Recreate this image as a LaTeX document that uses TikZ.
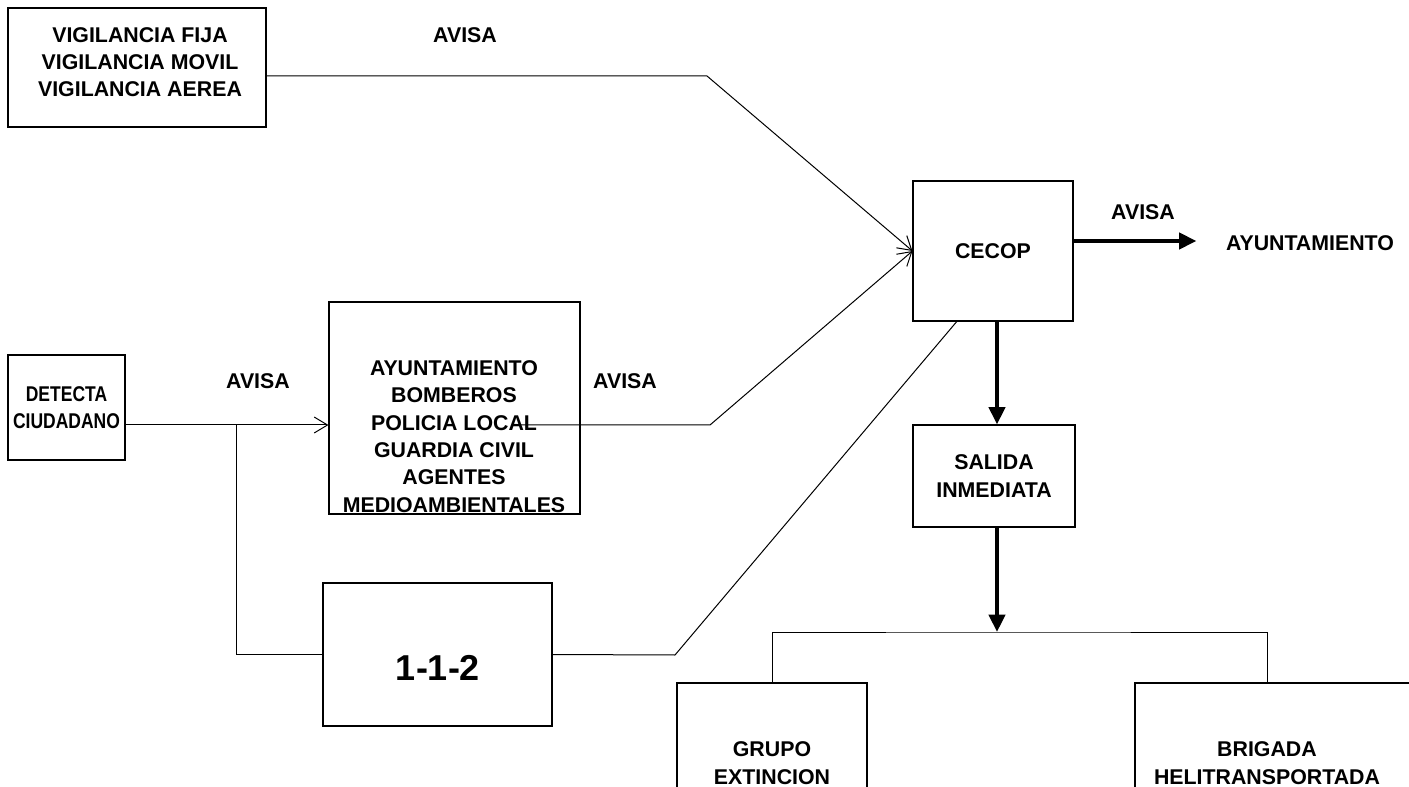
\documentclass[tikz,border=0pt]{standalone}
\usepackage{fontspec}
\setmainfont{Liberation Sans}
\newfontfamily\narrowfont[FakeStretch=0.82]{Liberation Sans}
\usetikzlibrary{arrows.meta,calc}
\newcommand{\px}{0.75pt}

\begin{document}
\begin{tikzpicture}[x=0.75pt,y=-0.75pt,
    box/.style={draw, line width=0.8pt, inner sep=0pt, align=center,
      font=\fontsize{16}{20.5}\selectfont\bfseries},
    txt/.style={inner sep=0pt, align=center,
      font=\fontsize{16}{20.5}\selectfont\bfseries},
    link/.style={line width=0.75pt},
    openarrow/.style={link, -{Straight Barb[length=10pt,width=12pt]}},
    bigarrow/.style={line width=3pt, -{Triangle[length=13pt,width=12pt]}}]
  \useasboundingbox (0,0) rectangle (1409,787);
  \clip (0,0) rectangle (1409,787);

  % boxes
  \node[box, minimum width=258*\px, minimum height=119*\px] (vig) at (137,67.5) {};
  \node[txt] (vig_t) at (140,62)
    {VIGILANCIA FIJA\\VIGILANCIA MOVIL\\VIGILANCIA AEREA};
  \node[box, minimum width=117*\px, minimum height=105*\px,
    font=\fontsize{16}{20.5}\narrowfont\bfseries] (ciu) at (66.5,407.5)
    {DETECTA\\CIUDADANO};
  \node[box, minimum width=251*\px, minimum height=212*\px] (ayto) at (454.5,408) {};
  \node[txt] (ayto_t) at (454,436.5)
    {AYUNTAMIENTO\\BOMBEROS\\POLICIA LOCAL\\GUARDIA CIVIL\\AGENTES\\MEDIOAMBIENTALES};
  \node[box, minimum width=229*\px, minimum height=143*\px] (tel) at (437.5,654.5) {};
  \node[txt, font=\fontsize{27}{30}\selectfont\bfseries] (tel_t) at (438,668) {1-1-2};
  \node[box, minimum width=160*\px, minimum height=140*\px] (cecop) at (993,251) {CECOP};
  \node[box, minimum width=162*\px, minimum height=102*\px] (salida) at (994,476)
    {SALIDA\\INMEDIATA};
  \node[box, minimum width=190*\px, minimum height=160*\px] (grupo) at (772,763)
    {GRUPO\\EXTINCION};
  \node[box, minimum width=290*\px, minimum height=160*\px] (brig) at (1280,763) {};
  \node[txt] (brig_t) at (1267,763) {BRIGADA\\HELITRANSPORTADA};
  \node[txt] (ayto2) at (1310,243) {AYUNTAMIENTO};

  % labels
  \node[txt] (av1) at (465,35) {AVISA};
  \node[txt] (av2) at (258,381) {AVISA};
  \node[txt] (av3) at (625,381) {AVISA};
  \node[txt] (av4) at (1143,212) {AVISA};

  % bends
  \coordinate (k1) at (707,76);
  \coordinate (split) at (236,425);
  \coordinate (ayto_out) at (515,425);
  \coordinate (k2) at (710,425);
  \coordinate (k3) at (675,655);
  \coordinate (bar) at (997,632);
  \coordinate (out) at ([yshift=7.5pt]cecop.east);

  % connectors
  \draw[openarrow] (vig.east |- k1) -- (k1) -- (cecop.west);
  \draw[openarrow] (ciu.east |- split) -- (ayto.west |- split);
  \draw[link] (split) |- (tel.west);
  \draw[openarrow] (ayto_out) -- (k2) -- (cecop.west);
  \draw[link] (tel.east) -- (k3) -- ($(cecop.south west)!0.275!(cecop.south east)$);
  \draw[bigarrow, shorten >=22pt] (out) -- (out -| ayto2.west);
  \draw[bigarrow] (cecop.south -| bar) -- (salida.north -| bar);
  \draw[bigarrow] (salida.south -| bar) -- (bar);
  \draw[link] (grupo.north) |- (bar) -| (brig_t.north |- brig.north);
\end{tikzpicture}
\end{document}
